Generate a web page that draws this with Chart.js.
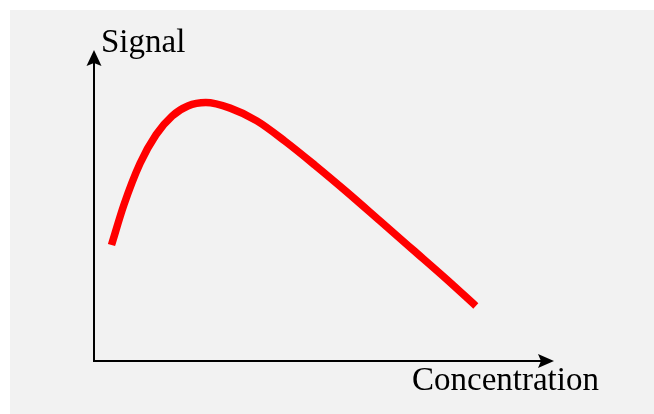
<!DOCTYPE html>
<html>
<head>
<meta charset="utf-8">
<script src="https://cdn.jsdelivr.net/npm/chart.js@4"></script>
<style>
  html, body { margin: 0; padding: 0; background: #fff; }
  canvas { display: block; }
</style>
</head>
<body>
<canvas id="chart" width="654" height="414"></canvas>
<script>
// curve (arbitrary units, axes run 0..10)
var concentration = [0.38, 0.65, 1.00, 1.35, 1.70, 2.04, 2.43, 2.96, 3.54, 4.15, 4.80, 5.50, 6.22, 6.93, 7.67, 8.30];
var signal        = [3.73, 5.02, 6.35, 7.28, 7.88, 8.20, 8.31, 8.13, 7.72, 7.07, 6.30, 5.43, 4.50, 3.58, 2.62, 1.77];
var xLabel = 'Concentration';
var yLabel = 'Signal';

var points = concentration.map(function (x, i) { return { x: x, y: signal[i] }; });

// background, axes with arrows, and the two labels
var sketch = {
    id: 'sketch',
    beforeDraw: function (chart) {
        var c = chart.ctx;
        c.save();
        c.fillStyle = '#ffffff';
        c.fillRect(0, 0, chart.width, chart.height);
        c.fillStyle = '#f2f2f2';
        c.fillRect(10, 10, chart.width - 10, chart.height - 10);
        c.restore();
    },
    afterDraw: function (chart) {
        var c = chart.ctx;
        var a = chart.chartArea;
        var x0 = a.left, y0 = a.bottom;
        c.save();
        c.strokeStyle = '#000';
        c.fillStyle = '#000';
        c.lineWidth = 2;
        c.beginPath();
        c.moveTo(x0, y0);
        c.lineTo(x0, a.top + 10);
        c.moveTo(x0 - 1, y0);
        c.lineTo(a.right - 10, y0);
        c.stroke();

        // y arrow
        c.beginPath();
        c.moveTo(x0, a.top);
        c.lineTo(x0 + 7.5, a.top + 16);
        c.lineTo(x0, a.top + 13);
        c.lineTo(x0 - 7.5, a.top + 16);
        c.closePath();
        c.fill();
        // x arrow
        c.beginPath();
        c.moveTo(a.right, y0);
        c.lineTo(a.right - 16, y0 - 7);
        c.lineTo(a.right - 13, y0);
        c.lineTo(a.right - 16, y0 + 7);
        c.closePath();
        c.fill();

        c.font = '33px "Liberation Serif", serif';
        c.textBaseline = 'alphabetic';
        c.textAlign = 'left';
        c.fillText(yLabel, 101, 52);
        c.fillText(xLabel, 412, 390);
        c.restore();
    }
};

new Chart(document.getElementById('chart').getContext('2d'), {
    type: 'scatter',
    data: {
        datasets: [{
            data: points,
            showLine: true,
            borderColor: '#ff0000',
            borderWidth: 7.5,
            borderCapStyle: 'butt',
            borderJoinStyle: 'round',
            pointRadius: 0,
            cubicInterpolationMode: 'monotone',
            fill: false
        }]
    },
    options: {
        responsive: false,
        animation: false,
        layout: { padding: { left: 94, right: 100, top: 50, bottom: 53 } },
        plugins: {
            legend: { display: false },
            tooltip: { enabled: false }
        },
        scales: {
            x: { type: 'linear', display: false, min: 0, max: 10 },
            y: { type: 'linear', display: false, min: 0, max: 10 }
        }
    },
    plugins: [sketch]
});
</script>
</body>
</html>
